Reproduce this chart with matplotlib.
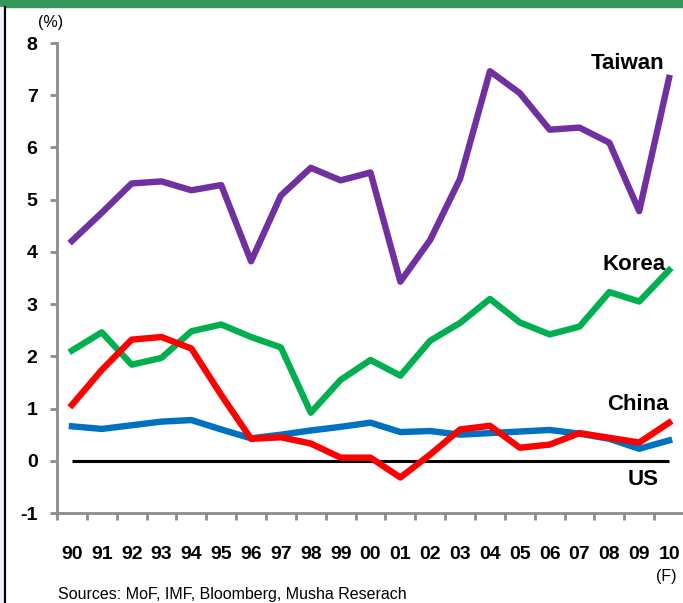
import numpy as np
import matplotlib.pyplot as plt
from matplotlib.patches import Rectangle
from matplotlib.lines import Line2D

plt.rcParams['font.family'] = ['Liberation Sans', 'DejaVu Sans']
plt.rcParams['axes.unicode_minus'] = False

# data (% of GDP)
years = ['90', '91', '92', '93', '94', '95', '96', '97', '98', '99', '00',
         '01', '02', '03', '04', '05', '06', '07', '08', '09', '10']
taiwan = [4.21, 4.75, 5.31, 5.35, 5.18, 5.28, 3.82, 5.08, 5.61, 5.37, 5.52,
          3.43, 4.23, 5.40, 7.46, 7.04, 6.34, 6.38, 6.09, 4.78, 7.33]
korea = [2.11, 2.46, 1.84, 1.97, 2.48, 2.61, 2.37, 2.17, 0.92, 1.55, 1.93,
         1.63, 2.30, 2.64, 3.10, 2.65, 2.42, 2.57, 3.23, 3.05, 3.65]
china = [1.07, 1.74, 2.32, 2.37, 2.15, 1.26, 0.42, 0.45, 0.33, 0.06, 0.06,
         -0.32, 0.12, 0.60, 0.67, 0.25, 0.31, 0.53, 0.44, 0.35, 0.73]
us = [0.66, 0.61, 0.68, 0.75, 0.78, 0.60, 0.43, 0.50, 0.58, 0.65, 0.73,
      0.55, 0.57, 0.50, 0.53, 0.56, 0.59, 0.52, 0.42, 0.23, 0.39]

x = np.arange(len(years))

fig = plt.figure(figsize=(6.83, 6.03), dpi=100)
ax = fig.add_axes([57 / 683, 90 / 603, 627 / 683, 470 / 603])

lw = 4.6
ax.plot(x, [0] * len(x), color='black', lw=2.2, solid_capstyle='butt', zorder=2)
ax.plot(x, us, color='#0070C0', lw=lw, zorder=3)
ax.plot(x, korea, color='#00B050', lw=lw, zorder=3)
ax.plot(x, china, color='#FF0000', lw=lw, zorder=4)
ax.plot(x, taiwan, color='#7030A0', lw=lw, zorder=3)

ax.set_xlim(-0.5, 20.5)
ax.set_ylim(-1, 8)

for s in ['top', 'right']:
    ax.spines[s].set_visible(False)
for s in ['left', 'bottom']:
    ax.spines[s].set_color('#8c8c8c')
    ax.spines[s].set_linewidth(2)

ax.set_yticks(range(-1, 9))
ax.tick_params(axis='y', length=5, width=2, color='#8c8c8c', pad=9,
               labelsize=14)
ax.set_xticks(x)
ax.set_xticklabels(years)
ax.set_xticks(np.arange(-0.5, 20.6, 1), minor=True)
ax.tick_params(axis='x', which='major', length=0, pad=24, labelsize=14)
ax.tick_params(axis='x', which='minor', length=5, width=2, color='#8c8c8c')
for lab in ax.get_xticklabels() + ax.get_yticklabels():
    lab.set_fontweight('bold')

# series labels
lab_kw = dict(fontsize=16, fontweight='bold', ha='right', va='center')
ax.text(19.85, 7.6, 'Taiwan', **lab_kw)
ax.text(19.9, 3.76, 'Korea', **lab_kw)
ax.text(20.0, 1.07, 'China', **lab_kw)
ax.text(19.65, -0.36, 'US', **lab_kw)

fig.text(38 / 683, 1 - 22 / 603, '(%)', fontsize=11.5, va='center')
fig.text(666 / 683, 1 - 576 / 603, '(F)', fontsize=11.5, ha='center', va='center')
fig.text(58 / 683, 1 - 594 / 603, 'Sources: MoF, IMF, Bloomberg, Musha Reserach',
         fontsize=11.5, va='center')

# frame bits: header bar and left border
fig.patches.append(Rectangle((0, 1 - 7 / 603), 1, 7 / 603, transform=fig.transFigure,
                             color='#36975C', zorder=0))
fig.patches.append(Rectangle((0, 0), 4 / 683, 1 - 7 / 603, transform=fig.transFigure,
                             color='#EEF0FA', zorder=0))
fig.lines.append(Line2D([5 / 683, 5 / 683], [0, 1 - 7 / 603], transform=fig.transFigure,
                        color='black', lw=1.6))

fig.savefig('out.png', dpi=100)
